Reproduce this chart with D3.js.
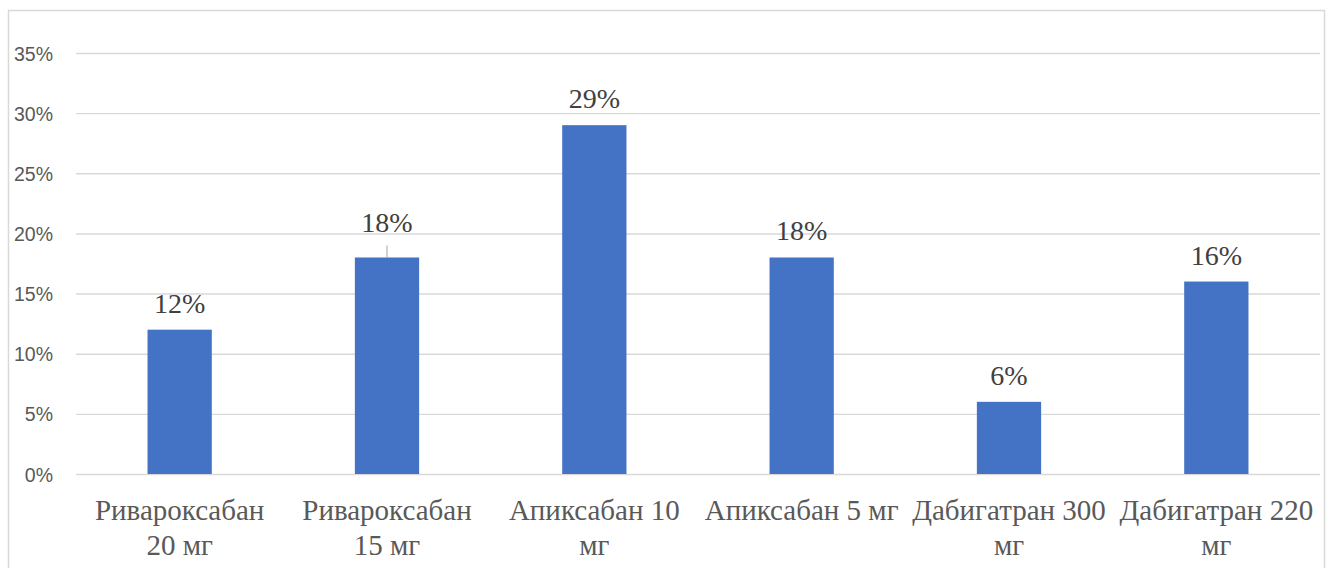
<!DOCTYPE html>
<html>
<head>
<meta charset="utf-8">
<script src="https://cdn.jsdelivr.net/npm/d3@7"></script>
<style>
  html, body { margin: 0; padding: 0; background: #fff; }
  svg { display: block; }
</style>
</head>
<body>
<svg id="chart" width="1333" height="568"></svg>
<script>
// Share of patients by anticoagulant and dose
const categories = [
  "Ривароксабан 20 мг",
  "Ривароксабан 15 мг",
  "Апиксабан 10 мг",
  "Апиксабан 5 мг",
  "Дабигатран 300 мг",
  "Дабигатран 220 мг"
];
// how each category name is broken into lines under the axis
const categoryLines = [
  ["Ривароксабан", "20 мг"],
  ["Ривароксабан", "15 мг"],
  ["Апиксабан 10", "мг"],
  ["Апиксабан 5 мг"],
  ["Дабигатран 300", "мг"],
  ["Дабигатран 220", "мг"]
];
const values = [0.12, 0.18, 0.29, 0.18, 0.06, 0.16];
const yTicks = [0, 0.05, 0.10, 0.15, 0.20, 0.25, 0.30, 0.35];

const svg = d3.select("#chart");
const plot = { left: 76, right: 1320, top: 53, bottom: 474 };

// chart area frame
svg.append("rect")
  .attr("x", 8.5).attr("y", 10.5)
  .attr("width", 1316).attr("height", 600)
  .attr("fill", "#fff")
  .attr("stroke", "#d9d9d9")
  .attr("stroke-width", 1.5);

const x = d3.scaleBand()
  .domain(categories)
  .range([plot.left, plot.right])
  .paddingInner(0.69)
  .paddingOuter(0.345);

const y = d3.scaleLinear()
  .domain([0, 0.35])
  .range([plot.bottom, plot.top]);

// horizontal gridlines + tick labels
const yAxis = d3.axisLeft(y)
  .tickValues(yTicks)
  .tickFormat(d3.format(".0%"))
  .tickSize(-(plot.right - plot.left))
  .tickPadding(23);

const gy = svg.append("g")
  .attr("transform", `translate(${plot.left},0)`)
  .call(yAxis);
gy.select(".domain").remove();
gy.selectAll(".tick line")
  .attr("stroke", "#d9d9d9")
  .attr("stroke-width", 1.4);
gy.selectAll(".tick text")
  .attr("fill", "#595959")
  .style("font-family", "'Liberation Sans', Arial, sans-serif")
  .style("font-size", "19.5px")
  .attr("dy", "0.36em");

// bars
svg.append("g")
  .selectAll("rect")
  .data(values)
  .join("rect")
  .attr("x", (d, i) => x(categories[i]))
  .attr("y", d => y(d))
  .attr("width", x.bandwidth())
  .attr("height", d => y(0) - y(d))
  .attr("fill", "#4472c4");

// value labels; the second one sits higher and is tied to its bar by a leader
const labelGap = 17;
const raisedLabel = 1, raisedLift = 8;
const lg = svg.append("g");
values.forEach((v, i) => {
  const cx = x(categories[i]) + x.bandwidth() / 2;
  const lift = i === raisedLabel ? raisedLift : 0;
  const base = y(v) - labelGap - lift;
  if (i === raisedLabel) {
    lg.append("line")
      .attr("x1", cx).attr("x2", cx)
      .attr("y1", base + 13).attr("y2", y(v))
      .attr("stroke", "#a6a6a6")
      .attr("stroke-width", 1);
  }
  lg.append("text")
    .attr("x", cx)
    .attr("y", base)
    .attr("text-anchor", "middle")
    .attr("fill", "#404040")
    .style("font-family", "'Liberation Serif', 'Times New Roman', serif")
    .style("font-size", "28px")
    .text(d3.format(".0%")(v));
});

// category labels
const xg = svg.append("g");
categories.forEach((c, i) => {
  const cx = x(c) + x.bandwidth() / 2;
  const t = xg.append("text")
    .attr("text-anchor", "middle")
    .attr("fill", "#595959")
    .style("font-family", "'Liberation Serif', 'Times New Roman', serif")
    .style("font-size", "29px");
  categoryLines[i].forEach((line, k) => {
    t.append("tspan")
      .attr("x", cx)
      .attr("y", 520 + k * 35)
      .text(line);
  });
});
</script>
</body>
</html>
